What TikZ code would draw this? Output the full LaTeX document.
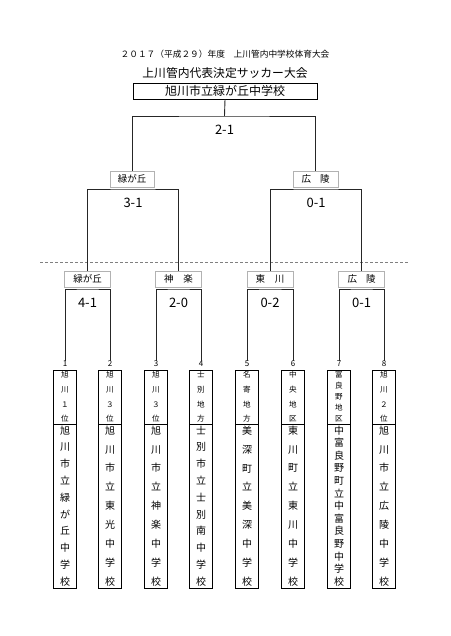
\documentclass[tikz,border=0pt]{standalone}
\usepackage{fontspec}
\setmainfont{Noto Sans CJK JP}
\newcommand\leafpair[7]{%
 \node[num] (#1n) at (#2,364) {#3};
 \node[upbox,font=\fontsize{7.6}{#5}\selectfont] (#1u) at (#2,397) {#4};
 \node[lobox,font=\fontsize{10}{#7}\selectfont] (#1l) at (#2,506) {#6};}
\begin{document}
\begin{tikzpicture}[x=1pt,y=-1pt,
  line/.style={draw=black!85,line width=0.9pt},
  lbl/.style={draw=black!30,line width=0.8pt,fill=white,minimum height=16pt,inner sep=0pt,font=\fontsize{9.5}{11}\selectfont},
  score/.style={font=\fontsize{13}{15}\selectfont,inner sep=0pt},
  upbox/.style={draw,line width=0.7pt,minimum width=23pt,minimum height=54pt,inner sep=0pt,align=center},
  lobox/.style={draw,line width=0.7pt,minimum width=23pt,minimum height=164pt,inner sep=0pt,align=center},
  num/.style={font=\fontsize{8}{9}\selectfont,inner sep=0pt}]
\useasboundingbox (0,0) rectangle (450,636);
% titles
\node[font=\fontsize{8.7}{10}\selectfont] (t1) at (225,54) {２０１７（平成２９）年度　上川管内中学校体育大会};
\node[font=\fontsize{11.8}{13}\selectfont] (t2) at (225,73) {上川管内代表決定サッカー大会};
\node[draw,line width=0.8pt,minimum width=184pt,minimum height=16pt,inner sep=0pt,font=\fontsize{12}{13}\selectfont] (w) at (225,91) {旭川市立緑が丘中学校};
% dashed separator
\coordinate (dl) at (40,262);
\coordinate (dr) at (408,262);
\draw[densely dashed,black!50,line width=0.6pt] (dl) -- (dr);
% leaves
\leafpair{a}{65}{1}{旭\\川\\１\\位}{14.7}{旭\\川\\市\\立\\緑\\が\\丘\\中\\学\\校}{16.8}
\leafpair{b}{110}{2}{旭\\川\\３\\位}{14.7}{旭\\川\\市\\立\\東\\光\\中\\学\\校}{18.9}
\leafpair{c}{156}{3}{旭\\川\\３\\位}{14.7}{旭\\川\\市\\立\\神\\楽\\中\\学\\校}{18.9}
\leafpair{d}{201}{4}{士\\別\\地\\方}{14.7}{士\\別\\市\\立\\士\\別\\南\\中\\学\\校}{16.8}
\leafpair{e}{247}{5}{名\\寄\\地\\方}{14.7}{美\\深\\町\\立\\美\\深\\中\\学\\校}{18.9}
\leafpair{f}{293}{6}{中\\央\\地\\区}{14.7}{東\\川\\町\\立\\東\\川\\中\\学\\校}{18.9}
\leafpair{g}{339}{7}{富\\良\\野\\地\\区}{11}{中\\富\\良\\野\\町\\立\\中\\富\\良\\野\\中\\学\\校}{12.6}
\leafpair{h}{384}{8}{旭\\川\\２\\位}{14.7}{旭\\川\\市\\立\\広\\陵\\中\\学\\校}{18.9}
% first round
\coordinate (k1) at (87.5,289);
\coordinate (k2) at (178.5,289);
\coordinate (k3) at (270,289);
\coordinate (k4) at (361.5,289);
\draw[line] (an.north) |- (k1) -| (bn.north);
\draw[line] (cn.north) |- (k2) -| (dn.north);
\draw[line] (en.north) |- (k3) -| (fn.north);
\draw[line] (gn.north) |- (k4) -| (hn.north);
\node[lbl,minimum width=46pt] (m1) at (87.5,279) {緑が丘};
\node[lbl,minimum width=46pt] (m2) at (178.5,279) {神\hspace{10pt}楽};
\node[lbl,minimum width=46pt] (m3) at (270,279) {東\hspace{10pt}川};
\node[lbl,minimum width=46pt] (m4) at (361.5,279) {広\hspace{9pt}陵};
\node[score] (r1) at (87.5,303) {4-1};
\node[score] (r2) at (178.5,303) {2-0};
\node[score] (r3) at (270,303) {0-2};
\node[score] (r4) at (361.5,303) {0-1};
% semi-final
\coordinate (p1) at (133,189);
\coordinate (p2) at (316,189);
\draw[line] (m1.north) |- (p1) -| (m2.north);
\draw[line] (m3.north) |- (p2) -| (m4.north);
\node[lbl,minimum width=44pt] (s1) at (132,179) {緑が丘};
\node[lbl,minimum width=45pt] (s2) at (315.5,179) {広\hspace{9pt}陵};
\node[score] (q1) at (133,203) {3-1};
\node[score] (q2) at (316,203) {0-1};
% final
\coordinate (tp) at (224.5,116);
\draw[line] (s1.north) |- (tp) -| (s2.north);
\draw[line] (tp) -- (w.south);
\node[score] (f1) at (224.5,130) {2-1};
\end{tikzpicture}
\end{document}
